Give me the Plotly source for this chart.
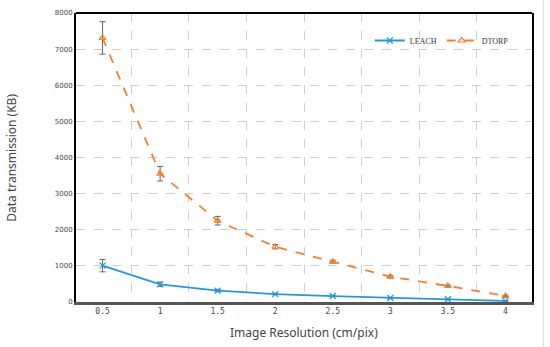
import plotly.graph_objects as go

categories = ["0.5", "1", "1.5", "2", "2.5", "3", "3.5", "4"]
leach = [1005, 490, 315, 220, 165, 110, 75, 30]
leach_err = [170, 60, 35, 20, 15, 12, 10, 8]
dtorp = [7310, 3550, 2250, 1530, 1115, 700, 445, 165]
dtorp_err = [450, 200, 120, 60, 40, 30, 25, 20]
y_ticks = [0, 1000, 2000, 3000, 4000, 5000, 6000, 7000, 8000]

fig = go.Figure()
fig.add_trace(go.Scatter(
    x=categories, y=leach, name="LEACH", mode="lines+markers",
    line=dict(color="#1f9ae0", width=1.8),
    marker=dict(symbol="x-thin-open", size=6, color="#1f9ae0", line=dict(color="#1f9ae0", width=1.2)),
    error_y=dict(type="data", array=leach_err, color="#666666", thickness=1, width=3),
))
fig.add_trace(go.Scatter(
    x=categories, y=dtorp, name="DTORP", mode="lines+markers",
    line=dict(color="#f57f2a", width=1.8, dash="dash"),
    marker=dict(symbol="triangle-up-open", size=6, color="#f57f2a", line=dict(color="#f57f2a", width=1.2)),
    error_y=dict(type="data", array=dtorp_err, color="#666666", thickness=1, width=3),
))

title_font = dict(family="Noto Sans, DejaVu Sans, sans-serif", size=12, color="#444444")

fig.update_layout(
    width=550, height=347,
    margin=dict(l=76, r=18, t=13, b=45, autoexpand=False),
    paper_bgcolor="white", plot_bgcolor="white",
    legend=dict(
        orientation="h", x=0.96, y=0.955, xanchor="right", yanchor="top",
        font=dict(family="Liberation Serif, DejaVu Serif, serif", size=8, color="#333333"),
        bgcolor="rgba(0,0,0,0)", itemwidth=30, tracegroupgap=0,
    ),
    xaxis=dict(
        type="category", tickson="boundaries", automargin=False,
        showgrid=True, gridcolor="#cfcfcf", griddash="dash", gridwidth=1,
        showline=True, linecolor="#555555", linewidth=2.5, mirror=False,
        ticks="", tickfont=dict(family="DejaVu Sans Mono, monospace", size=8, color="#444444"),
    ),
    yaxis=dict(
        range=[0, 8000], tickvals=y_ticks, automargin=False,
        showgrid=True, gridcolor="#cfcfcf", griddash="dash", gridwidth=1,
        showline=True, linecolor="black", linewidth=2, mirror=True,
        zeroline=False,
        ticks="", tickfont=dict(family="DejaVu Sans, sans-serif", size=7, color="#444444"),
    ),
    annotations=[
        dict(text="Image Resolution (cm/pix)", xref="paper", yref="paper", x=0.5, y=-0.107,
             xanchor="center", yanchor="middle", showarrow=False, font=title_font),
        dict(text="Data transmission (KB)", xref="paper", yref="paper", x=-0.142, y=0.5, textangle=-90,
             xanchor="center", yanchor="middle", showarrow=False, font=title_font),
    ],
    shapes=[
        dict(type="line", xref="paper", yref="paper", x0=0, x1=1, y0=1, y1=1,
             line=dict(color="black", width=2)),
        dict(type="line", xref="paper", yref="paper", x0=1.025, x1=1.025, y0=-0.16, y1=1.045,
             line=dict(color="#dddddd", width=1)),
    ],
)

fig.write_html("out.html", config={"displayModeBar": False},
               post_script="document.body.style.margin='0';")
